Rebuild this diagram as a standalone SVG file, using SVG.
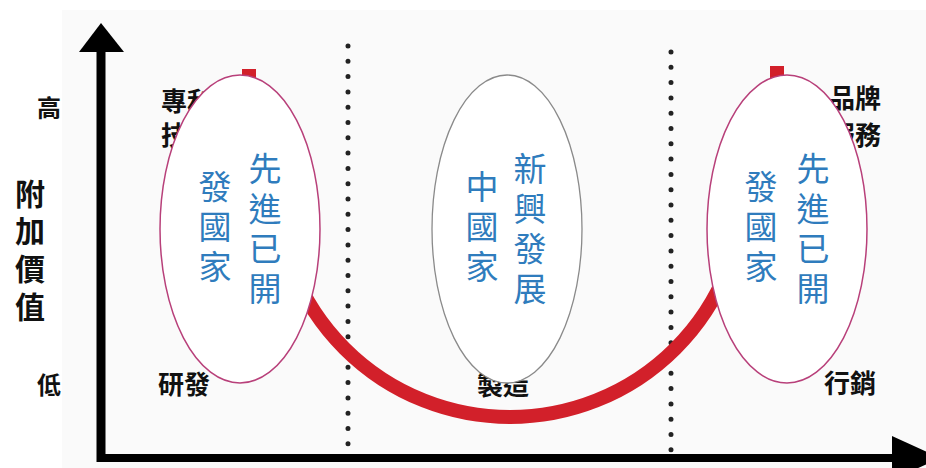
<svg xmlns="http://www.w3.org/2000/svg" width="926" height="468" viewBox="0 0 926 468">
<style>
.lbl{font-family:"Noto Sans CJK TC","Noto Sans CJK SC",sans-serif;font-weight:bold;fill:#111;}
.big{font-family:"Noto Sans CJK TC","Noto Sans CJK SC",sans-serif;font-weight:bold;fill:#111;font-size:30px;writing-mode:vertical-rl;}
.blue{font-family:"Noto Sans CJK TC","Noto Sans CJK SC",sans-serif;fill:#2f7cbd;font-size:33px;writing-mode:vertical-rl;}
.pink{fill:#fff;stroke:#b8407a;stroke-width:1.5;}
.gray{fill:#fff;stroke:#8a8a8a;stroke-width:1.3;}
.dots{stroke:#222;stroke-width:5;stroke-linecap:round;stroke-dasharray:0 15.3;}
</style>
<rect width="926" height="468" fill="#ffffff"/>
<rect x="62" y="10" width="864" height="458" fill="#fafafa"/>
<g id="axes">
<line x1="101" y1="48" x2="101" y2="462" stroke="#000" stroke-width="9"/>
<polygon points="101,23 79,52 124,52" fill="#000"/>
<line x1="97" y1="458" x2="900" y2="458" stroke="#000" stroke-width="8"/>
<polygon points="892,436 940,458 892,480" fill="#000"/>
</g>
<g id="dividers">
<line class="dots" x1="348" y1="46" x2="348" y2="448"/>
<line class="dots" x1="671" y1="52" x2="671" y2="452"/>
</g>
<g id="axis-labels">
<text class="lbl" x="49" y="117" font-size="24" text-anchor="middle">高</text>
<text class="lbl" x="49" y="394" font-size="24" text-anchor="middle">低</text>
<text class="big" x="30" y="179">附</text>
<text class="big" x="30" y="216">加</text>
<text class="big" x="30" y="254">價</text>
<text class="big" x="30" y="292">值</text>
</g>
<g id="stage-labels">
<text class="lbl" x="161" y="111" font-size="26">專利</text>
<text class="lbl" x="161" y="145" font-size="26">技術</text>
<text class="lbl" x="881" y="108" font-size="26" text-anchor="end">品牌</text>
<text class="lbl" x="881" y="145" font-size="26" text-anchor="end">服務</text>
<text class="lbl" x="158" y="394" font-size="26">研發</text>
<text class="lbl" x="477" y="395" font-size="26">製造</text>
<text class="lbl" x="824" y="393" font-size="26">行銷</text>
</g>
<g id="connectors">
<path id="smile-curve" d="M249,69 L249,110 L276,183 A234,234 0 0 0 744,183 L777,110 L777,66" fill="none" stroke="#d2202a" stroke-width="14"/>
</g>
<g id="node-left">
<ellipse class="pink" cx="240" cy="229" rx="80" ry="154"/>
<text class="blue" x="265" y="152">先</text>
<text class="blue" x="265" y="192">進</text>
<text class="blue" x="265" y="232">已</text>
<text class="blue" x="265" y="272">開</text>
<text class="blue" x="215" y="170">發</text>
<text class="blue" x="215" y="210">國</text>
<text class="blue" x="215" y="250">家</text>
</g>
<g id="node-middle">
<ellipse class="gray" cx="507" cy="229" rx="75" ry="154"/>
<text class="blue" x="530" y="152">新</text>
<text class="blue" x="530" y="192">興</text>
<text class="blue" x="530" y="232">發</text>
<text class="blue" x="530" y="272">展</text>
<text class="blue" x="482" y="170">中</text>
<text class="blue" x="482" y="210">國</text>
<text class="blue" x="482" y="250">家</text>
</g>
<g id="node-right">
<ellipse class="pink" cx="787" cy="229" rx="80" ry="154"/>
<text class="blue" x="813" y="152">先</text>
<text class="blue" x="813" y="192">進</text>
<text class="blue" x="813" y="232">已</text>
<text class="blue" x="813" y="272">開</text>
<text class="blue" x="761" y="170">發</text>
<text class="blue" x="761" y="210">國</text>
<text class="blue" x="761" y="250">家</text>
</g>
</svg>
